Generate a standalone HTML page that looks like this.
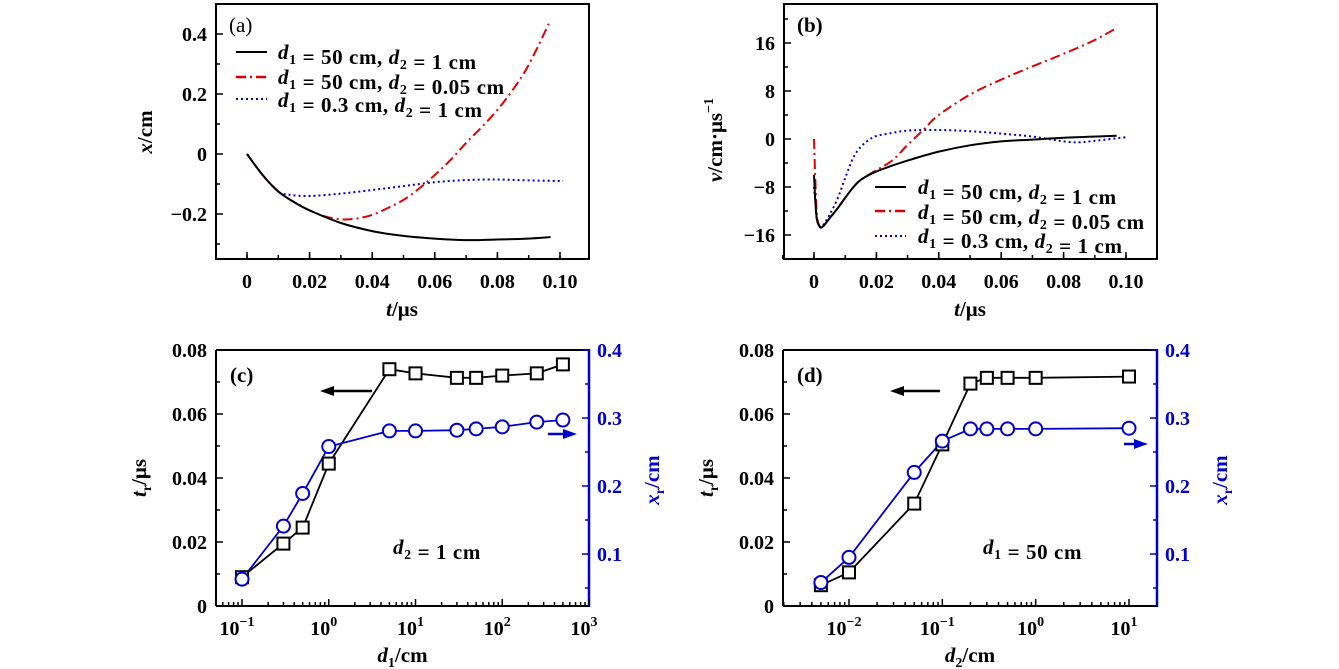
<!DOCTYPE html>
<html><head><meta charset="utf-8"><style>
html,body{margin:0;padding:0;background:#fff;}
svg{display:block;font-family:"Liberation Serif",serif;}
</style></head><body>
<svg id="fig" width="1339" height="669" viewBox="0 0 1339 669"></svg>
<script>
// ---- Panel (a) data ----
const tA_black=[0,0.005,0.01,0.015,0.02,0.03,0.04,0.05,0.06,0.07,0.08,0.09,0.097];
const xA_black=[0,-0.07,-0.125,-0.16,-0.188,-0.23,-0.257,-0.273,-0.282,-0.287,-0.285,-0.282,-0.277];
const tA_red=[0,0.005,0.01,0.015,0.02,0.025,0.03,0.035,0.04,0.045,0.05,0.055,0.06,0.065,0.07,0.075,0.08,0.085,0.09,0.097];
const xA_red=[0,-0.07,-0.125,-0.16,-0.188,-0.208,-0.218,-0.215,-0.203,-0.18,-0.153,-0.115,-0.07,-0.02,0.037,0.09,0.147,0.215,0.297,0.447];
const tA_blue=[0,0.005,0.01,0.013,0.02,0.03,0.04,0.05,0.06,0.07,0.08,0.09,0.101];
const xA_blue=[0,-0.07,-0.125,-0.135,-0.14,-0.132,-0.12,-0.107,-0.094,-0.087,-0.085,-0.088,-0.09];
const ticksA_x=[0,0.02,0.04,0.06,0.08,0.10];
const ticksA_xl=["0","0.02","0.04","0.06","0.08","0.10"];
const ticksA_y=[-0.2,0,0.2,0.4];
const ticksA_yl=["\u22120.2","0","0.2","0.4"];
// ---- Panel (b) data ----
const tB_black=[0,0.0005,0.001,0.002,0.003,0.005,0.0075,0.01,0.0125,0.015,0.02,0.03,0.04,0.05,0.06,0.07,0.08,0.09,0.097];
const vB_black=[-6,-11,-13.6,-14.7,-14.5,-13.2,-11.6,-9.8,-8.1,-6.8,-5.4,-3.6,-2.1,-1.05,-0.4,-0.1,0.2,0.4,0.55];
const tB_red=[0,0.0005,0.001,0.002,0.003,0.005,0.0075,0.01,0.0125,0.015,0.02,0.025,0.03,0.035,0.04,0.05,0.06,0.07,0.08,0.09,0.097];
const vB_red=[0,-8,-13,-14.7,-14.5,-13.2,-11.6,-9.8,-8.1,-6.8,-5.2,-3.6,-1,1.5,4,7.4,9.9,12.1,14.2,16.5,18.5];
const tB_blue=[0,0.0005,0.001,0.002,0.003,0.005,0.0075,0.01,0.0125,0.015,0.0175,0.02,0.025,0.03,0.04,0.05,0.06,0.07,0.08,0.085,0.09,0.1];
const vB_blue=[-8,-11,-13.6,-14.7,-14.3,-12.6,-10,-6.5,-3.2,-1.3,-0.2,0.5,1,1.4,1.5,1.3,0.9,0.4,-0.4,-0.55,-0.3,0.3];
const ticksB_x=[0,0.02,0.04,0.06,0.08,0.10];
const ticksB_xl=["0","0.02","0.04","0.06","0.08","0.10"];
const ticksB_y=[-16,-8,0,8,16];
const ticksB_yl=["\u221216","\u22128","0","8","16"];
// ---- Panel (c) data ----
const d1C=[0.1,0.3,0.5,1,5,10,30,50,100,250,500];
const trC=[0.009,0.0195,0.0245,0.0445,0.074,0.0727,0.0713,0.0713,0.072,0.0727,0.0755];
const xrC=[0.063,0.141,0.189,0.258,0.281,0.281,0.282,0.284,0.287,0.294,0.297];
// ---- Panel (d) data ----
const d2D=[0.005,0.01,0.05,0.1,0.2,0.3,0.5,1,10];
const trD=[0.0065,0.0105,0.032,0.0505,0.0695,0.0713,0.0713,0.0713,0.0717];
const xrD=[0.058,0.095,0.220,0.266,0.284,0.284,0.284,0.284,0.285];
const ticksTr=[0,0.02,0.04,0.06,0.08];
const ticksTrl=["0","0.02","0.04","0.06","0.08"];
const ticksXr=[0.1,0.2,0.3,0.4];
const ticksXrl=["0.1","0.2","0.3","0.4"];

const NS="http://www.w3.org/2000/svg";
const svg=document.getElementById('fig');
const FS=20;
function el(tag,attrs,parent){const e=document.createElementNS(NS,tag);for(const k in attrs)e.setAttribute(k,attrs[k]);(parent||svg).appendChild(e);return e;}
function lin(d0,d1,r0,r1){return v=>r0+(v-d0)/(d1-d0)*(r1-r0);}
function logs(d0,d1,r0,r1){return v=>r0+(Math.log10(v)-d0)/(d1-d0)*(r1-r0);}
function path(xs,ys,sx,sy){return xs.map((v,i)=>(i?'L':'M')+sx(v).toFixed(1)+','+sy(ys[i]).toFixed(1)).join('');}
function smooth(xs,ys,sx,sy){
  const P=xs.map((v,i)=>[sx(v),sy(ys[i])]);let d='M'+P[0][0].toFixed(1)+','+P[0][1].toFixed(1);
  for(let i=0;i<P.length-1;i++){const p0=P[Math.max(0,i-1)],p1=P[i],p2=P[i+1],p3=P[Math.min(P.length-1,i+2)];
    const c1=[p1[0]+(p2[0]-p0[0])/6,p1[1]+(p2[1]-p0[1])/6],c2=[p2[0]-(p3[0]-p1[0])/6,p2[1]-(p3[1]-p1[1])/6];
    d+='C'+c1.map(n=>n.toFixed(1)).join(',')+' '+c2.map(n=>n.toFixed(1)).join(',')+' '+p2.map(n=>n.toFixed(1)).join(',');}
  return d;}
function txt(x,y,s,opts,parent){const t=el('text',Object.assign({x:x,y:y,'font-size':FS,'font-weight':'bold'},opts||{}),parent);t.textContent=s;return t;}
function dsub(parent,n){
  const a=document.createElementNS(NS,'tspan');a.setAttribute('font-style','italic');a.textContent='d';parent.appendChild(a);
  const b=document.createElementNS(NS,'tspan');b.setAttribute('font-size','14');b.setAttribute('dy','5');b.textContent=n;parent.appendChild(b);
  const c=document.createElementNS(NS,'tspan');c.setAttribute('dy','-5');c.textContent='';parent.appendChild(c);return c;}
function legendText(x,y,parts,name){
  const t=el('text',{x:x,y:y,'font-size':21,'font-weight':'bold','letter-spacing':0.6});
  
  
  parts.forEach(p=>{if(typeof p==='string'){const s=document.createElementNS(NS,'tspan');s.textContent=p;t.appendChild(s);}else dsub(t,p.d);});
  return t;}
function box(x0,y0,x1,y1,name){const r=el('rect',{x:x0,y:y0,width:x1-x0,height:y1-y0,fill:'none',stroke:'#000','stroke-width':2});
  
  }
function linTicksX(sx,y,vals,labels,minorStep,d0,d1){
  vals.forEach((v,i)=>{el('line',{x1:sx(v),x2:sx(v),y1:y,y2:y-7,stroke:'#000','stroke-width':1.5});
    const t=txt(sx(v),y+29,labels[i],{'text-anchor':'middle'});
    
    });
  for(let v=d0;v<=d1+1e-9;v+=minorStep){el('line',{x1:sx(v),x2:sx(v),y1:y,y2:y-4,stroke:'#000','stroke-width':1.5});}
}
function linTicksY(sy,x,vals,labels,minors,color,side){
  vals.forEach((v,i)=>{el('line',{x1:x,x2:x+(side==='r'?-7:7),y1:sy(v),y2:sy(v),stroke:color,'stroke-width':1.5});
    const t=txt(side==='r'?x+8:x-9,sy(v)+7,labels[i],{'text-anchor':side==='r'?'start':'end',fill:color});
    
    });
  minors.forEach(v=>el('line',{x1:x,x2:x+(side==='r'?-4:4),y1:sy(v),y2:sy(v),stroke:color,'stroke-width':1.5}));
}
function logTicksX(sx,y,e0,e1,lo,hi,labelExps){
  for(let e=e0;e<=e1;e++)for(let m=1;m<10;m++){const v=m*Math.pow(10,e);if(v<lo||v>hi)continue;
    el('line',{x1:sx(v),x2:sx(v),y1:y,y2:y-(m===1?7:4),stroke:'#000','stroke-width':1.5});}
  labelExps.forEach(e=>{const t=el('text',{x:sx(Math.pow(10,e))-5,y:y+29,'font-size':FS,'font-weight':'bold','text-anchor':'middle'});
    
    
    t.textContent='10';const s=document.createElementNS(NS,'tspan');s.setAttribute('font-size','14');s.setAttribute('dy','-9');s.textContent=(e<0?'\u2212':'')+Math.abs(e);t.appendChild(s);});
}
function series(d,style,name){const p=el('path',Object.assign({d:d,fill:'none','stroke-width':2,'stroke-linejoin':'round'},style));
  
  }
function arrow(x1,x2,y,color,name){const g=el('g',{});
  
  
  const dir=x2>x1?1:-1;
  el('line',{x1:x1,x2:x2-dir*8,y1:y,y2:y,stroke:color,'stroke-width':2.5},g);
  el('polygon',{points:`${x2},${y} ${x2-dir*14},${y-5} ${x2-dir*14},${y+5}`,fill:color},g);}
function rotLabel(x,y,parts,color,name){const t=el('text',{x:0,y:0,'font-size':21,'font-weight':'bold','text-anchor':'middle',fill:color,transform:`translate(${x},${y}) rotate(-90)`});
  
  
  parts.forEach(p=>{const s=document.createElementNS(NS,'tspan');for(const k in p.a||{})s.setAttribute(k,p.a[k]);s.textContent=p.t;t.appendChild(s);});}

// ===== Panel (a) =====
{const sx=lin(0,0.1,247,560), sy=lin(0,0.2,154,94);
 box(216,4,589,259,'panel-a-frame');
 linTicksX(sx,259,ticksA_x,ticksA_xl,0.01,-0.01,0.1);
 linTicksY(sy,216,ticksA_y,ticksA_yl,[-0.3,-0.1,0.1,0.3],'#000','l');
 series(smooth(tA_blue,xA_blue,sx,sy),{stroke:'#0000cc','stroke-dasharray':'2,3'},'series-a-blue');
 series(smooth(tA_red,xA_red,sx,sy),{stroke:'#e00000','stroke-dasharray':'10,4,2,4'},'series-a-red');
 series(smooth(tA_black,xA_black,sx,sy),{stroke:'#000'},'series-a-black');
 const l=txt(229,32,'(a)',{'font-weight':'normal','font-size':21});
 el('line',{x1:236,x2:267,y1:52,y2:52,stroke:'#000','stroke-width':2});
 el('line',{x1:236,x2:267,y1:77,y2:77,stroke:'#e00000','stroke-width':2.5,'stroke-dasharray':'10,4,2,4'});
 el('line',{x1:236,x2:267,y1:99,y2:99,stroke:'#0000cc','stroke-width':2,'stroke-dasharray':'2,3'});
 legendText(278,59,[{d:'1'},' = 50 cm, ',{d:'2'},' = 1 cm'],'legend-entry-a-black');
 legendText(278,84,[{d:'1'},' = 50 cm, ',{d:'2'},' = 0.05 cm'],'legend-entry-a-red');
 legendText(278,107,[{d:'1'},' = 0.3 cm, ',{d:'2'},' = 1 cm'],'legend-entry-a-blue');
 const xt=el('text',{x:402,y:316,'font-size':21,'font-weight':'bold','text-anchor':'middle'});
 xt.innerHTML='<tspan font-style="italic">t</tspan>/μs';
 rotLabel(152,132,[{t:'x',a:{'font-style':'italic'}},{t:'/cm'}],'#000','y-axis-title-a');
}
// ===== Panel (b) =====
{const sx=lin(0,0.1,814,1126), sy=lin(0,16,139,43);
 box(784,4,1157,259,'panel-b-frame');
 linTicksX(sx,259,ticksB_x,ticksB_xl,0.01,-0.01,0.1);
 linTicksY(sy,784,ticksB_y,ticksB_yl,[-20,-12,-4,4,12,20],'#000','l');
 series(smooth(tB_blue,vB_blue,sx,sy),{stroke:'#0000cc','stroke-dasharray':'2,3'},'series-b-blue');
 series(smooth(tB_red,vB_red,sx,sy),{stroke:'#e00000','stroke-dasharray':'10,4,2,4'},'series-b-red');
 series(smooth(tB_black,vB_black,sx,sy),{stroke:'#000'},'series-b-black');
 const l=txt(797,32,'(b)',{'font-size':21});
 el('line',{x1:875,x2:906,y1:187,y2:187,stroke:'#000','stroke-width':2});
 el('line',{x1:875,x2:906,y1:211,y2:211,stroke:'#e00000','stroke-width':2.5,'stroke-dasharray':'10,4,2,4'});
 el('line',{x1:875,x2:906,y1:236,y2:236,stroke:'#0000cc','stroke-width':2,'stroke-dasharray':'2,3'});
 legendText(918,194,[{d:'1'},' = 50 cm, ',{d:'2'},' = 1 cm'],'legend-entry-b-black');
 legendText(918,219,[{d:'1'},' = 50 cm, ',{d:'2'},' = 0.05 cm'],'legend-entry-b-red');
 legendText(918,243,[{d:'1'},' = 0.3 cm, ',{d:'2'},' = 1 cm'],'legend-entry-b-blue');
 const xt=el('text',{x:970,y:316,'font-size':21,'font-weight':'bold','text-anchor':'middle'});
 xt.innerHTML='<tspan font-style="italic">t</tspan>/μs';
 rotLabel(722,140,[{t:'v',a:{'font-style':'italic'}},{t:'/cm·μs'},{t:'−1',a:{'font-size':14,dy:-9}}],'#000','y-axis-title-b');
}
function markers(xs,ys,sx,sy,kind,name){
  xs.forEach((v,i)=>{let m;
    if(kind==='sq')m=el('rect',{x:sx(v)-6,y:sy(ys[i])-6,width:12,height:12,fill:'#fff',stroke:'#000','stroke-width':2});
    else m=el('circle',{cx:sx(v),cy:sy(ys[i]),r:6.5,fill:'#fff',stroke:'#0000cc','stroke-width':2});
    
    });
}
function bottomPanel(x0,x1,e0,e1,xs,tr,xr,labelExps,lo,hi,tag,anno,d1t){
  const sx=logs(e0,e1,x0,x1), sy=lin(0,0.08,606,350), sy2=lin(0.1,0.4,554,350);
  el('line',{x1:x0,x2:x1,y1:350,y2:350,stroke:'#000','stroke-width':2});
  el('line',{x1:x0,x2:x1,y1:606,y2:606,stroke:'#000','stroke-width':2});
  el('line',{x1:x0,x2:x0,y1:350,y2:606,stroke:'#000','stroke-width':2});
  el('line',{x1:x1,x2:x1,y1:349,y2:607,stroke:'#0000cc','stroke-width':2.5});
  logTicksX(sx,606,Math.floor(e0),Math.ceil(e1),lo,hi,labelExps);
  linTicksY(sy,x0,ticksTr,ticksTrl,[0.01,0.03,0.05,0.07],'#000','l');
  linTicksY(sy2,x1,ticksXr,ticksXrl,[0.05,0.15,0.25,0.35],'#0000cc','r');
  series(path(xs,tr,sx,sy),{stroke:'#000','stroke-width':1.8},'series-tr-'+tag);
  series(path(xs,xr,sx,sy2),{stroke:'#0000cc','stroke-width':1.8},'series-xr-'+tag);
  markers(xs,tr,sx,sy,'sq','marker-tr-'+tag);
  markers(xs,xr,sx,sy2,'ci','marker-xr-'+tag);
  const l=txt(x0+14,382,'('+tag+')',{'font-size':21});
  legendText(anno[0],554,[{d:anno[1]},anno[2]],'annotation-'+tag);
  const xt=el('text',{x:(x0+x1)/2,y:662,'font-size':21,'font-weight':'bold','text-anchor':'middle'});
  
  
  xt.innerHTML='<tspan font-style="italic">d</tspan><tspan font-size="14" dy="5">'+d1t+'</tspan><tspan dy="-5">/cm</tspan>';
  rotLabel(x0-70,478,[{t:'t',a:{'font-style':'italic'}},{t:'r',a:{'font-size':14,dy:5}},{t:'/μs',a:{dy:-5}}],'#000','y-axis-title-left-'+tag);
  rotLabel(x1+70,480,[{t:'x',a:{'font-style':'italic'}},{t:'r',a:{'font-size':14,dy:5}},{t:'/cm',a:{dy:-5}}],'#0000cc','y-axis-title-right-'+tag);
}
bottomPanel(216,589,-1.3,3,d1C,trC,xrC,[-1,0,1,2,3],0.05,1000,'c',[393,'2',' = 1 cm'],'1');
arrow(372,320,391,'#000','arrow-left-c');
arrow(548,577,434,'#0000cc','arrow-right-c');
bottomPanel(783,1157,-2.707,1.3,d2D,trD,xrD,[-2,-1,0,1],0.002,20,'d',[983,'1',' = 50 cm'],'2');
arrow(940,890,391,'#000','arrow-left-d');
arrow(1124,1148,444,'#0000cc','arrow-right-d');
</script>
</body></html>
